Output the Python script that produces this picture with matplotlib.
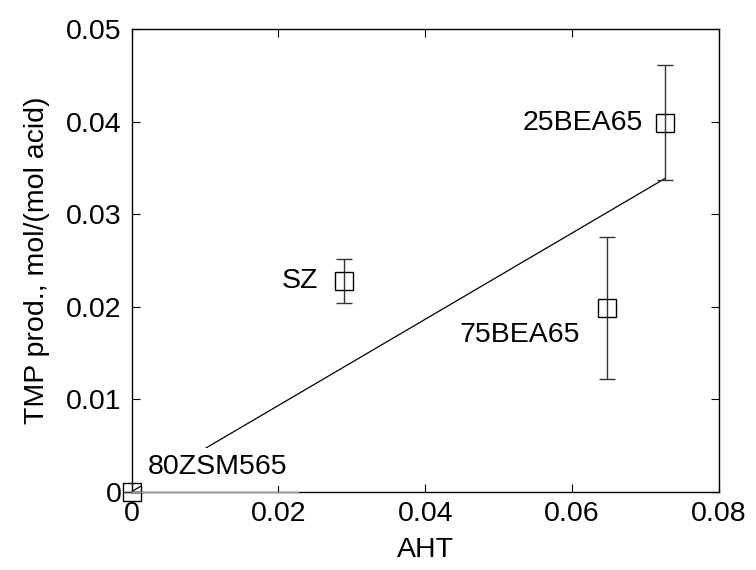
import matplotlib
matplotlib.use("Agg")
import matplotlib.pyplot as plt

plt.rcParams['font.family'] = ['Liberation Sans', 'DejaVu Sans']

# Data
names = ["80ZSM565", "SZ", "75BEA65", "25BEA65"]
aht = [0.0, 0.0290, 0.0647, 0.0727]
tmp = [0.0, 0.0228, 0.0199, 0.0399]
err = [0.0, 0.0024, 0.0077, 0.0062]
fit_x = [0.0, 0.0727]
fit_y = [0.0, 0.0339]
label_x = [0.00225, 0.0254, 0.0611, 0.0696]
label_y = [0.00267, 0.0228, 0.01695, 0.0399]
label_ha = ["left", "right", "right", "right"]
xticks = [0, 0.02, 0.04, 0.06, 0.08]
yticks = [0, 0.01, 0.02, 0.03, 0.04, 0.05]
xtick_labels = ["0", "0.02", "0.04", "0.06", "0.08"]
ytick_labels = ["0", "0.01", "0.02", "0.03", "0.04", "0.05"]
fs = 20.5

fig = plt.figure(figsize=(7.56, 5.70), dpi=100)
ax = fig.add_axes([0.174, 0.1374, 0.777, 0.811])

ax.plot(fit_x, fit_y, color='black', lw=0.9, zorder=2)
ax.errorbar(aht, tmp, yerr=err, fmt='s', mfc='none', mec='black', mew=1.0,
            ms=13.5, ecolor='#333333', elinewidth=1.0, capsize=5.5, capthick=1.0,
            clip_on=False, zorder=3)

for n, lx, ly, ha in zip(names, label_x, label_y, label_ha):
    kw = {}
    if n == "80ZSM565":
        kw = dict(bbox=dict(facecolor='white', edgecolor='none', pad=4))
    ax.text(lx, ly, n, ha=ha, va='center', fontsize=fs, zorder=4, **kw)

ax.set_xlim(0, 0.08)
ax.set_ylim(0, 0.05)
ax.set_xticks(xticks)
ax.set_xticklabels(xtick_labels)
ax.set_yticks(yticks)
ax.set_yticklabels(ytick_labels)
ax.tick_params(direction='in', length=6, width=0.8, labelsize=fs, top=True, right=True, pad=7)
for s in ax.spines.values():
    s.set_linewidth(1.0)
    s.set_zorder(5)
# light segment of the bottom axis hidden under the label box
ax.plot([0, 0.0227], [0, 0], color='#999999', lw=1.0, zorder=6, clip_on=False)
ax.set_xlabel("AHT", fontsize=fs, labelpad=7)
ax.set_ylabel("TMP prod., mol/(mol acid)", fontsize=fs, labelpad=12)

fig.savefig("out.png", dpi=100)
